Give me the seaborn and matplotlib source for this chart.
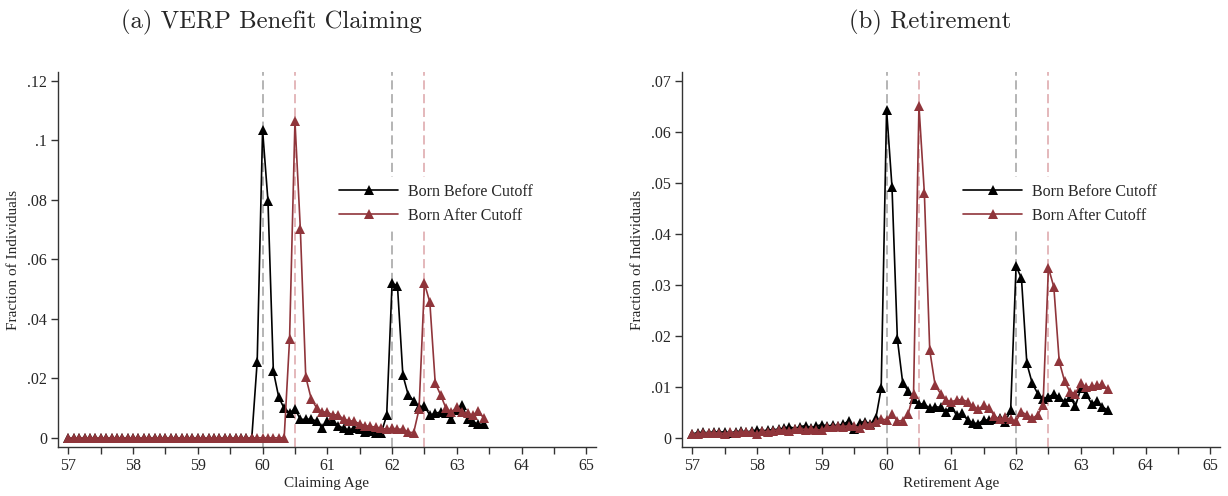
import numpy as np
import matplotlib
matplotlib.use("Agg")
import matplotlib.pyplot as plt
import seaborn as sns

# Monthly age grid: 57 years + 0..77 months
months = np.arange(78)
ages = 57 + months / 12

# (a) VERP benefit claiming: fraction of individuals claiming at each age
claim_before = [0.0] * 35 + [
    0.0256, 0.1035, 0.0796, 0.0224, 0.0136, 0.0099, 0.0084, 0.0097, 0.0062, 0.0062,
    0.0063, 0.0056, 0.0034, 0.0055, 0.0058, 0.0041, 0.0032, 0.0026, 0.0032, 0.0029,
    0.0021, 0.0023, 0.0015, 0.0017, 0.0075, 0.0519, 0.0511, 0.0211, 0.0144, 0.0125,
    0.0104, 0.0107, 0.0076, 0.0082, 0.0087, 0.0083, 0.0062, 0.0092, 0.0110, 0.0062,
    0.0054, 0.0045, 0.0046]
claim_before = [0.0] + claim_before[1:]

claim_after = [0.0] * 41 + [
    0.0331, 0.1065, 0.0702, 0.0205, 0.0132, 0.0101, 0.0087, 0.0087, 0.0076, 0.0078,
    0.0062, 0.0058, 0.0055, 0.0047, 0.0041, 0.0038, 0.0036, 0.0032, 0.0029, 0.0032,
    0.0029, 0.0029, 0.0019, 0.0017, 0.0096, 0.0519, 0.0456, 0.0184, 0.0144, 0.0099,
    0.0087, 0.0102, 0.0087, 0.0082, 0.0076, 0.0091, 0.0065]

# (b) Retirement: fraction of individuals retiring at each age
retire_before = [
    0.0008, 0.0010, 0.0011, 0.0010, 0.0012, 0.0011, 0.0012, 0.0010, 0.0012, 0.0013,
    0.0012, 0.0013, 0.0016, 0.0014, 0.0015, 0.0016, 0.0017, 0.0019, 0.0022, 0.0018,
    0.0022, 0.0024, 0.0020, 0.0023, 0.0026, 0.0023, 0.0025, 0.0024, 0.0027, 0.0033,
    0.0018, 0.0030, 0.0032, 0.0027, 0.0038, 0.0097, 0.0644, 0.0493, 0.0194, 0.0107,
    0.0092, 0.0076, 0.0067, 0.0066, 0.0058, 0.0061, 0.0060, 0.0051, 0.0061, 0.0044,
    0.0048, 0.0035, 0.0029, 0.0028, 0.0035, 0.0035, 0.0036, 0.0038, 0.0031, 0.0055,
    0.0337, 0.0313, 0.0146, 0.0107, 0.0087, 0.0077, 0.0080, 0.0086, 0.0080, 0.0071,
    0.0080, 0.0062, 0.0097, 0.0086, 0.0067, 0.0072, 0.0061, 0.0054]

retire_after = [
    0.0007, 0.0008, 0.0009, 0.0010, 0.0009, 0.0010, 0.0008, 0.0011, 0.0010, 0.0012,
    0.0011, 0.0012, 0.0007, 0.0013, 0.0012, 0.0014, 0.0016, 0.0015, 0.0014, 0.0017,
    0.0018, 0.0016, 0.0017, 0.0016, 0.0015, 0.0021, 0.0022, 0.0023, 0.0022, 0.0024,
    0.0023, 0.0020, 0.0027, 0.0026, 0.0031, 0.0037, 0.0035, 0.0046, 0.0033, 0.0034,
    0.0047, 0.0087, 0.0652, 0.0481, 0.0172, 0.0103, 0.0087, 0.0074, 0.0071, 0.0074,
    0.0075, 0.0071, 0.0062, 0.0056, 0.0064, 0.0058, 0.0043, 0.0036, 0.0040, 0.0036,
    0.0033, 0.0051, 0.0045, 0.0038, 0.0045, 0.0064, 0.0334, 0.0296, 0.0150, 0.0111,
    0.0090, 0.0087, 0.0107, 0.0099, 0.0101, 0.0103, 0.0105, 0.0095]

cutoffs_before = [60, 62]
cutoffs_after = [60.5, 62.5]
series_labels = ["Born Before Cutoff", "Born After Cutoff"]
panel_titles = ["(a) VERP Benefit Claiming", "(b) Retirement"]
x_labels = ["Claiming Age", "Retirement Age"]
y_label = "Fraction of Individuals"
left_yticks = [0, 0.02, 0.04, 0.06, 0.08, 0.10, 0.12]
left_ylabels = ["0", ".02", ".04", ".06", ".08", ".1", ".12"]
right_yticks = [0, 0.01, 0.02, 0.03, 0.04, 0.05, 0.06, 0.07]
right_ylabels = ["0", ".01", ".02", ".03", ".04", ".05", ".06", ".07"]

sns.set_theme(style="ticks")
plt.rcParams["font.family"] = ["Liberation Serif", "DejaVu Serif"]

BLACK = "#000000"
CRAN = "#90353B"
GRAY_DASH = "#a0a0a0"
PINK_DASH = "#dca4a8"

fig = plt.figure(figsize=(12.28, 4.96), dpi=100)
ax_l = fig.add_axes([58 / 1228, 1 - 447 / 496, 538 / 1228, 375 / 496])
ax_r = fig.add_axes([682 / 1228, 1 - 447 / 496, 538 / 1228, 375 / 496])

panels = [
    (ax_l, claim_before, claim_after, left_yticks, left_ylabels, (-0.0031, 0.123)),
    (ax_r, retire_before, retire_after, right_yticks, right_ylabels, (-0.0018, 0.0718)),
]

half_ticks = np.arange(57, 65.01, 0.5)

for i, (ax, yb, ya, yt, ytl, ylim) in enumerate(panels):
    for c in cutoffs_before:
        ax.axvline(c, color=GRAY_DASH, lw=1.1, dashes=(6, 3), zorder=1)
    for c in cutoffs_after:
        ax.axvline(c, color=PINK_DASH, lw=1.1, dashes=(6, 3), zorder=1)

    sns.lineplot(x=ages, y=yb, ax=ax, color=BLACK, lw=1.2, marker="^",
                 markersize=7, markeredgewidth=0, label=series_labels[0], zorder=3)
    sns.lineplot(x=ages, y=ya, ax=ax, color=CRAN, lw=1.2, marker="^",
                 markersize=7, markeredgewidth=0, label=series_labels[1], zorder=4)

    ax.set_xlim(56.84, 65.15)
    ax.set_ylim(*ylim)
    ax.set_xticks(half_ticks)
    ax.set_xticklabels([str(int(t)) if float(t).is_integer() else "" for t in half_ticks])
    ax.set_yticks(yt)
    ax.set_yticklabels(ytl)
    ax.tick_params(axis="both", labelsize=11.5, length=5, width=1, color="#333333",
                   pad=3, direction="out")
    ax.set_xlabel(x_labels[i], fontsize=11, labelpad=2)
    ax.set_ylabel(y_label, fontsize=11, labelpad=5)
    for s in ["top", "right"]:
        ax.spines[s].set_visible(False)
    for s in ["left", "bottom"]:
        ax.spines[s].set_linewidth(1.0)
        ax.spines[s].set_color("#333333")

    leg = ax.legend(loc="upper left", bbox_to_anchor=(0.496, 0.74), frameon=True,
                    facecolor="white", edgecolor="none", framealpha=1,
                    fontsize=11.5, handlelength=3.7, handletextpad=0.6,
                    labelspacing=0.5, borderpad=0.4, numpoints=1)
    leg.set_zorder(2)
    for h in leg.legend_handles:
        h.set_markersize(7)

fig.text(271 / 1228, 1 - 22 / 496, panel_titles[0], ha="center", va="center",
         fontsize=17.8, family="cmr10")
fig.text(930 / 1228, 1 - 22 / 496, panel_titles[1], ha="center", va="center",
         fontsize=17.8, family="cmr10")

fig.savefig("out.png", dpi=100, facecolor="white")
